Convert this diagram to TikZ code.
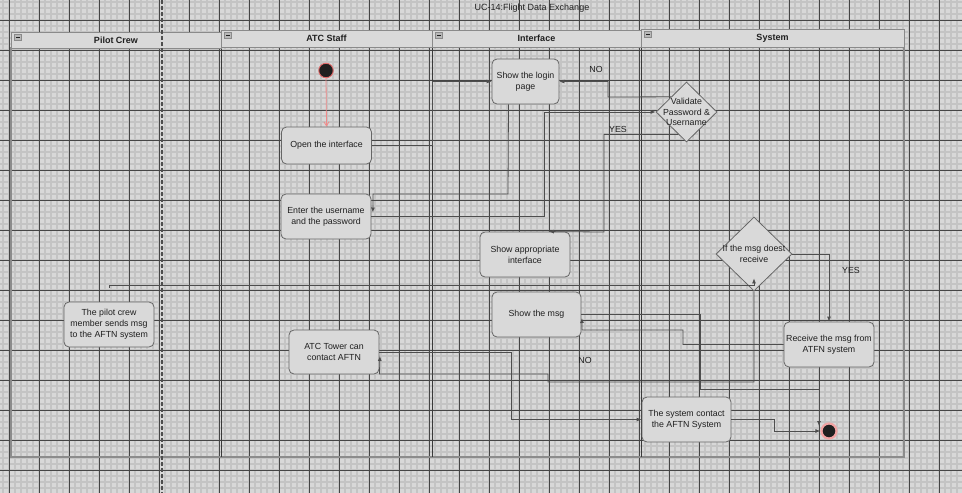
\documentclass[tikz,border=0pt]{standalone}
\usepackage{fontspec}
\setmainfont{Liberation Sans}
\usetikzlibrary{arrows.meta,shapes.geometric}

\definecolor{canvas}{HTML}{D8D8D8}
\definecolor{gridminor}{HTML}{C4C4C4}
\definecolor{gridmajor}{HTML}{454545}
\definecolor{boxfill}{HTML}{D9D9D9}
\definecolor{boxline}{HTML}{666666}
\definecolor{flowline}{HTML}{4E4E4E}
\definecolor{headfill}{HTML}{D9D9D9}
\definecolor{headline}{HTML}{8A8A8A}
\definecolor{poolline}{HTML}{8C8C8C}
\definecolor{laneline}{HTML}{3A3A3A}
\definecolor{inkdark}{HTML}{1F1F1F}
\definecolor{startring}{HTML}{E26A6A}
\definecolor{endring}{HTML}{F2A3A3}
\definecolor{startflow}{HTML}{F08A8A}

\newcommand{\nodefont}{\fontsize{8.8}{10.8}\selectfont}
\newcommand{\headfont}{\fontsize{9}{11}\selectfont\bfseries}

\tikzset{
  minorline/.style={draw=gridminor, line width=1.2pt},
  majorline/.style={draw=gridmajor, line width=0.75pt},
  act/.style={draw=boxline, fill=boxfill, rounded corners=5pt, line width=0.8pt,
    minimum width=90pt, minimum height=45pt, align=center, inner sep=1pt,
    font=\nodefont, text=inkdark},
  decision/.style={diamond, draw=boxline, fill=boxfill, line width=0.8pt,
    inner sep=0pt, text=inkdark},
  decisiontext/.style={font=\nodefont, align=center, text=inkdark},
  flow/.style={draw=flowline, line width=0.8pt, -{Latex[length=5pt,width=4pt]}},
  initflow/.style={draw=startflow, line width=0.8pt, -{Straight Barb[length=4pt,width=5pt]}},
  startdot/.style={circle, fill=inkdark, draw=startring, line width=0.9pt,
    minimum size=14.5pt, inner sep=0pt},
  enddot/.style={circle, fill=inkdark, draw=endring, line width=2.2pt,
    minimum size=15pt, inner sep=0pt},
  guardlabel/.style={font=\nodefont, text=inkdark},
  lanehead/.style={draw=headline, fill=headfill, line width=1pt, font=\headfont,
    text=inkdark, minimum height=17pt, inner sep=0pt},
  iconbox/.style={draw=headline, fill=headfill!85!black, line width=0.6pt},
  iconbar/.style={draw=inkdark, line width=0.9pt},
  poolframe/.style={draw=poolline, line width=1.5pt},
  lanesep/.style={draw=laneline, line width=0.9pt},
  crewsep/.style={draw=flowline, line width=1.1pt, dash pattern=on 4pt off 2pt}
}

\begin{document}
\begin{tikzpicture}[x=1pt,y=-1pt]
  \useasboundingbox (0,0) rectangle (962,493);
  \fill[canvas] (0,0) rectangle (962,493);

  % drawing-board grid: fine lines every 6, heavy lines every 30
  \foreach \gx in {3,9,...,957} \draw[minorline] (\gx,0) -- (\gx,493);
  \foreach \gy in {2,8,...,488} \draw[minorline] (0,\gy) -- (962,\gy);
  \foreach \gx in {9,39,...,939} \draw[majorline] (\gx,0) -- (\gx,493);
  \foreach \gy in {20,50,...,470} \draw[majorline] (0,\gy) -- (962,\gy);

  % title
  \node[font=\fontsize{9}{11}\selectfont, text=inkdark] (title) at (532,8.5) {UC-14:Flight Data Exchange};

  % swimlanes
  \draw[poolframe] (11,47) -- (11,457) -- (904,457) -- (904,47);
  \draw[lanesep] (221,47) -- (221,457);
  \draw[lanesep] (432,47) -- (432,457);
  \draw[lanesep] (641,47) -- (641,457);

  \node[lanehead, minimum width=210pt, minimum height=16pt] (hpilot) at (116,40) {Pilot Crew};
  \node[lanehead, minimum width=211pt] (hatc) at (326.5,38.5) {ATC Staff};
  \node[lanehead, minimum width=209pt] (hint) at (536.5,38.5) {Interface};
  \node[lanehead, minimum width=263pt, minimum height=18pt] (hsys) at (772.5,38) {System};

  \foreach \h in {hpilot,hatc,hint,hsys} {
    \draw[iconbox] ([xshift=4pt,yshift=-3pt]\h.north west) rectangle +(7,6);
    \draw[iconbar] ([xshift=5.5pt,yshift=-6pt]\h.north west) -- +(4,0);
  }

  % dashed separator through the crew lane
  \draw[crewsep] (162,0) -- (162,493);

  % activities
  \node[startdot] (start) at (326,70.5) {};
  \node[act, minimum height=37pt] (open) at (326.5,145.5) {Open the interface};
  \node[act] (enter) at (326,216.5) {Enter the username\\and the password};
  \node[act, minimum width=67pt] (login) at (525.5,81.5) {Show the login\\page};
  \node[decision, minimum width=61pt, minimum height=60pt,
        label={[decisiontext]center:Validate\\Password \&\\Username}] (validate) at (686.5,112) {};
  \node[act] (appropriate) at (525,254.5) {Show appropriate\\interface};
  \node[decision, minimum width=76pt, minimum height=74pt,
        label={[decisiontext]center:If the msg doest\\receive}] (ifmsg) at (754,254) {};
  \node[act] (receive) at (829,344.5) {Receive the msg from\\ATFN system};
  \node[act] (pilot) at (109,324.5) {The pilot crew\\member sends msg\\to the AFTN system};
  \node[act, minimum height=44pt] (atc) at (334,352) {ATC Tower can\\contact AFTN};
  \node[act, minimum width=89pt] (showmsg) at (536.5,314.5) {Show the msg};
  \node[act, minimum width=89pt] (syscontact) at (686.5,419.5) {The system contact\\the AFTN System};
  \node[enddot] (finish) at (829,431) {};

  \coordinate (pilotstub) at (109,288);

  % control flow
  \draw[initflow] (start.south) -- (open.north);
  \draw[flow] (open.east) -- (432,145.5) |- (login.west);
  \draw[flow] ([xshift=-17pt]login.south) -- (508,194) -- (373,194) -- ([xshift=1.5pt,yshift=4pt]enter.east);
  \draw[flow] (enter.east) -- (544,216.5) |- (validate.west);
  \draw[flow] (validate.north west) -- (608,97) |- (login.east);
  \draw[flow] (validate.250) -| (604,232) -- ([xshift=24pt]appropriate.north);
  \draw[flow] (pilotstub) -- (109,285) -| ([yshift=13pt]ifmsg.south);
  \draw[flow] (ifmsg.east) -| (receive.north);
  \draw[flow] (ifmsg.south) |- (548,382) |- (379.5,374) -- ([xshift=0.5pt,yshift=-4pt]atc.east);
  \draw[flow] (atc.east) -| (511,419.5) -- (syscontact.west);
  \draw[flow] (receive.west) -- (683,344.5) |- (582,330) -- ([xshift=0.5pt,yshift=-3.5pt]showmsg.east);
  \draw[flow] (showmsg.east) -- (700,314.5) |- (819,389) -- ([xshift=-10pt,yshift=5pt]finish.center);
  \draw[flow] (syscontact.east) -| (774,431) -- (finish.west);

  % guard labels
  \node[guardlabel] (noa) at (596,69) {NO};
  \node[guardlabel] (yesa) at (618,129) {YES};
  \node[guardlabel] (yesb) at (851,270) {YES};
  \node[guardlabel] (nob) at (585,360) {NO};
\end{tikzpicture}
\end{document}
